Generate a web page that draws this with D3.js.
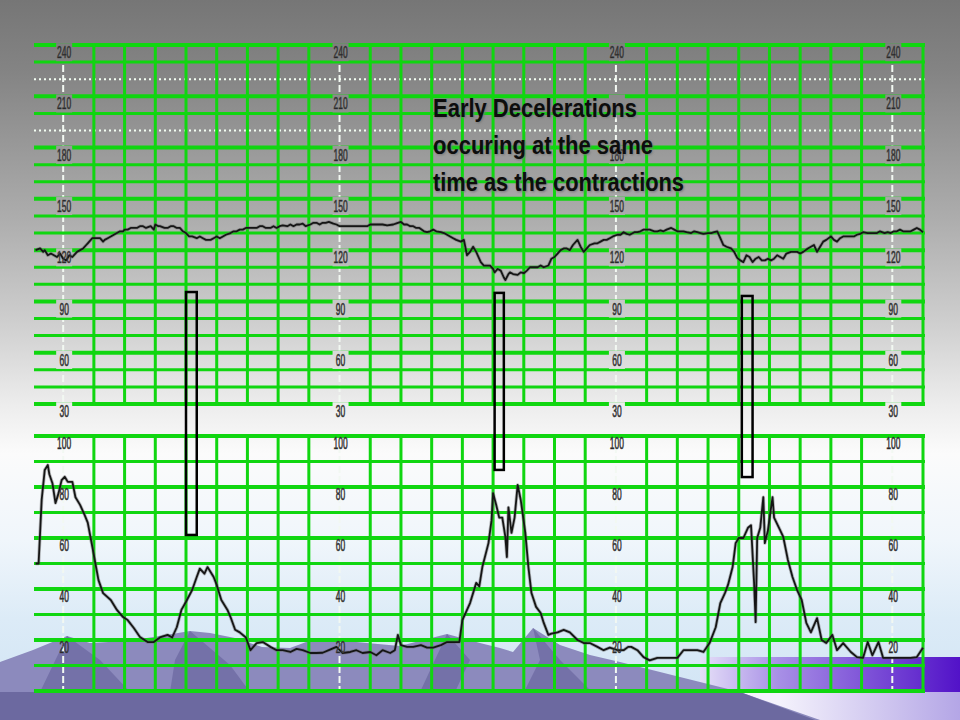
<!DOCTYPE html>
<html><head><meta charset="utf-8">
<script src="https://cdn.jsdelivr.net/npm/d3@7"></script>
<style>html,body{margin:0;padding:0;background:#fff}svg{display:block}</style>
</head><body>
<svg id="c" width="960" height="720"></svg>
<script>
// ---------------- DATA ----------------
// time in seconds from the first scale column (each small grid box = 20 s)
const fhrSeconds = [-18,-15,-13,-12,-10,-8,-6,-4,-2,0,2,4,6,9,11,13,15,16,19,21,24,26,27,29,31,33,35,37,39,40,42,44,46,48,50,52,54,57,59,60,62,63,66,68,70,72,74,76,78,80,82,84,87,89,91,93,96,98,100,102,104,106,109,111,113,115,117,119,122,124,126,128,130,132,135,137,139,141,143,146,148,150,152,154,156,158,161,163,165,167,169,171,173,176,178,180,182,185,188,191,194,198,200,202,205,208,211,215,218,220,222,224,226,228,230,232,235,237,239,241,243,246,248,250,252,254,256,259,261,263,265,267,269,270,272,274,276,278,280,281,283,285,287,288,290,291,293,296,298,300,302,304,306,309,311,313,316,318,320,322,324,326,328,330,332,335,337,339,341,343,346,348,350,352,354,356,358,361,363,365,367,369,372,374,376,378,380,382,385,387,389,391,393,396,398,400,402,404,406,409,411,413,415,417,420,422,424,426,428,430,432,435,437,439,441,443,445,447,449,451,453,455,457,459,461,463,465,467,469,471,474,476,478,480,482,485,487,489,491,493,495,497,500,502,504,506,508,511,513,515,517,519,521,524,526,528,530,532,535,537,539,541,543,545,547,550,552,554,556,558,560];
const fhrBpm = [120,121,119,120,117,118,117,116,118,115,114,117,116,119,120,121,123,124,127,127,127,125,126,127,128,129,130,131,131,132,132,133,133,133,134,134,133,134,132,135,134,134,133,133,134,134,133,133,131,130,128,128,127,128,127,126,126,127,128,127,128,129,130,131,131,132,132,133,133,133,133,134,134,133,133,134,133,134,134.5,134,135,134,135,135,135.5,134,135,136,136,135,136,136,136.5,135.5,135,134,134,134,134,134,134,134,135,135,135,135,134.5,135,136,136.5,135,135,134,134,133,133,131,130.5,131,132,131,130.5,130,129,128,127,126,125,126,117,119,122,119,117,113,111,111,111,109,107,109,108,104,102.5,106,107,106,105.5,107,106.5,108,110,110,110,111,110,111,115,116,118,120,121,121,120,123,126,122,119,121,123,124,124,125,126,126,127,128,129,129,130.5,129.5,129,130.5,130.5,131,132,132,132,131,131,131.5,131,132,133,132,131,131,131,130.5,130,131,130.5,130,129.5,130,130,130.5,131,127,123,122,121,119,115.5,114,113,117,116,113,115,116,114,114,115,114,115,117,116,115,118,119,119,119,118,119,121,122,123,119,122,125,126,128,126,125,127,128,128,128,128,129,129.5,130.5,130,130,130,130,131,130,130.5,130,131,131,132,131,131,131,132,133,132,130.5];

const uaSeconds = [-18,-16,-14,-12,-10,-9,-7,-5,-3,-1,1,3,6,8,11,14,16,19,21,23,26,31,35,39,42,46,50,55,59,63,68,71,74,77,80,84,87,89,92,94,98,100,103,107,109,112,115,119,122,126,130,135,139,143,148,152,156,161,165,169,173,178,182,187,191,195,200,204,208,213,216,218,220,224,228,233,237,241,246,250,254,258,260,265,269,271,273,277,279,280,282,284,286,288,289,290,292,294,296,298,301,303,305,308,311,313,316,318,322,326,330,335,339,343,348,352,356,361,365,368,370,374,378,382,387,391,395,400,404,408,413,417,421,425,428,431,433,436,438,440,443,446,448,450,451,452,454,456,457,459,462,463,467,469,472,475,478,481,484,487,491,494,497,501,504,508,513,517,521,524,527,531,534,539,543,547,552,556,560];
const uaValue = [50,50,75,86.7,88.6,85,81.5,73.7,77.6,82.7,84,82,82,76,73,69,66,56.5,50,43.5,38.4,35.7,31.8,29,27.8,24.7,21.2,19.2,19.2,21,22,21,25,31.8,35,39.6,44.7,48,46,48.6,44.7,41.6,35.7,31.8,29,24,23,21,16,18.8,19.2,17.3,16,16,15.3,16.5,16,14.9,14.9,15,16,17.3,14.9,15.3,16,14.9,15.3,14,16,14.9,16,22,18,17.3,17.3,18,17,17,18,19.2,19.2,19.2,27.8,34.5,42.4,41,48.6,58,67,77.6,73,68,68,60.4,52.5,72,62,68,80.8,75,62,48.6,38.4,33,30.6,26.7,22,22.5,23,24,23,20,18.8,18.8,17.3,16,17,16,16,17.3,17.3,16,13.3,12,13,13,13,13,16,16,16,15.3,18.8,25,34.5,38.4,41.6,48.6,58,60,60,64,65,42.4,27,60,64,76,58,63,76,68,63,60.4,51.4,44.7,39.6,35.7,26.7,23,28.6,20,18.8,22,16,18.8,15.3,13.3,13,19.2,14,19.2,13,13,13,13,13,13.3,17];

const fhrTicks = [240, 210, 180, 150, 120, 90, 60, 30];
const uaTicks = [100, 80, 60, 40, 20];
const scaleColumns = [0, 180, 360, 540];
const titleLines = ["Early Decelerations", "occuring at the same", "time as the contractions"];
// annotation boxes: start/end seconds, top (bpm, FHR scale), bottom (UA scale)
const markStart = [80, 281, 442];
const markEnd = [87, 287, 449];
const markTopBpm = [95.5, 95, 93.2];
const markBottomUa = [61.2, 86.7, 83.9];

// ---------------- LAYOUT ----------------
const svg = d3.select("#c");
const x = d3.scaleLinear().domain([-19, 560]).range([34, 923]);
const yF = d3.scaleLinear().domain([30, 240]).range([404, 45]);
const yU = d3.scaleLinear().domain([0, 100]).range([691, 436]);
const GREEN = "#10d610";
const xL = x(-19), xR = x(561.3);
const FONT = "Liberation Sans, Arial, sans-serif";

const defs = svg.append("defs");
const bg = defs.append("linearGradient").attr("id", "bg")
  .attr("gradientUnits", "userSpaceOnUse").attr("x1", 0).attr("y1", 0).attr("x2", 0).attr("y2", 720);
[[0, "#767676"], [0.1, "#848484"], [0.3, "#acacac"], [0.45, "#cfcfcf"], [0.56, "#ececec"], [0.63, "#fbfbfb"],
 [0.75, "#f0f6fb"], [0.86, "#dcebf7"], [1, "#cfe3f4"]].forEach(s =>
  bg.append("stop").attr("offset", s[0]).attr("stop-color", s[1]));
const band = defs.append("linearGradient").attr("id", "band")
  .attr("gradientUnits", "userSpaceOnUse").attr("x1", 700).attr("y1", 0).attr("x2", 960).attr("y2", 0);
[[0, "#e6e0f8"], [0.3, "#a890e6"], [1, "#5212c8"]].forEach(s =>
  band.append("stop").attr("offset", s[0]).attr("stop-color", s[1]));
const low = defs.append("linearGradient").attr("id", "low")
  .attr("gradientUnits", "userSpaceOnUse").attr("x1", 780).attr("y1", 0).attr("x2", 960).attr("y2", 0);
[[0, "#f4f2fc"], [1, "#b4a6e6"]].forEach(s =>
  low.append("stop").attr("offset", s[0]).attr("stop-color", s[1]));
const blur = defs.append("filter").attr("id", "sh").attr("x", "-5%").attr("y", "-20%").attr("width", "110%").attr("height", "140%");
blur.append("feGaussianBlur").attr("stdDeviation", 1.2);

// background
svg.append("rect").attr("width", 960).attr("height", 720).attr("fill", "url(#bg)");
// decorative slide scenery
const deco = svg.append("g");
deco.append("rect").attr("x", 700).attr("y", 657).attr("width", 260).attr("height", 35).attr("fill", "url(#band)");
deco.append("rect").attr("x", 740).attr("y", 692).attr("width", 220).attr("height", 28).attr("fill", "url(#low)");
deco.append("path").attr("fill", "#8c8abd")
  .attr("d", "M0,662 L33,650 L67,636 L90,643 L127,641 L160,636 L190,631 L210,633 L235,638 L262,647 L290,648 L317,638 L335,640 L367,643 L400,646 L447,634 L480,643 L500,648 L513,652 L533,628 L560,645 L590,655 L620,662 L660,672 L700,682 L740,692 L820,720 L0,720 Z");
deco.append("path").attr("fill", "#7471a8")
  .attr("d", "M67,636 L100,660 L130,692 L40,692 Z M190,631 L230,665 L250,692 L170,692 L175,660 Z M533,628 L560,660 L600,700 L560,720 L520,700 L540,660 Z M447,634 L470,660 L455,692 L420,692 Z");
deco.append("path").attr("fill", "#6c69a0")
  .attr("d", "M0,692 L740,692 L815,720 L0,720 Z");

// ---------------- GRID ----------------
const grid = svg.append("g");
scaleColumns.forEach(c => {
  [[yF(240), yF(30)], [yU(100), yU(0)]].forEach(r => {
    grid.append("line").attr("x1", x(c)).attr("x2", x(c)).attr("y1", r[0]).attr("y2", r[1])
      .attr("stroke", "#f2f8f2").attr("stroke-width", 2).attr("stroke-dasharray", "7,3");
  });
});
d3.range(30, 241, 10).forEach(v => {
  const dotted = (v === 220 || v === 190);
  grid.append("line").attr("x1", xL).attr("x2", xR).attr("y1", yF(v)).attr("y2", yF(v))
    .attr("stroke", dotted ? "#f4fff4" : GREEN)
    .attr("stroke-width", dotted ? 2 : (v % 30 === 0 ? 4 : 3))
    .attr("stroke-dasharray", dotted ? "2,3" : null);
});
d3.range(0, 101, 10).forEach(v => {
  grid.append("line").attr("x1", xL).attr("x2", xR).attr("y1", yU(v)).attr("y2", yU(v))
    .attr("stroke", GREEN).attr("stroke-width", v % 20 === 0 ? 4 : 3);
});
d3.range(20, 561, 20).filter(t => !scaleColumns.includes(t)).forEach(t => {
  grid.append("line").attr("x1", x(t)).attr("x2", x(t)).attr("y1", yF(240) - 1).attr("y2", yF(30) + 1)
    .attr("stroke", GREEN).attr("stroke-width", 3);
  grid.append("line").attr("x1", x(t)).attr("x2", x(t)).attr("y1", yU(100) - 1).attr("y2", yU(0) + 1)
    .attr("stroke", GREEN).attr("stroke-width", 3);
});

// label backing boxes on FHR panel
const boxes = svg.append("g");
scaleColumns.forEach(c => {
  fhrTicks.forEach(v => {
    boxes.append("rect").attr("x", x(c) - 7).attr("width", 16)
      .attr("y", yF(v - 4.2) - 9).attr("height", 18).attr("fill", "url(#bg)");
  });
});

// ---------------- TRACES ----------------
const fhrLine = d3.line().x((d, i) => x(fhrSeconds[i])).y(d => yF(d));
const uaLine = d3.line().x((d, i) => x(uaSeconds[i])).y(d => yU(d));
[[fhrLine(fhrBpm)], [uaLine(uaValue)]].forEach(p => {
  svg.append("path").attr("d", p[0]).attr("fill", "none")
    .attr("stroke", "#666").attr("stroke-opacity", 0.45).attr("stroke-width", 3.4).attr("stroke-linejoin", "round");
  svg.append("path").attr("d", p[0]).attr("fill", "none")
    .attr("stroke", "#151515").attr("stroke-width", 1.8).attr("stroke-linejoin", "round");
});

// ---------------- SCALE LABELS ----------------
const lab = svg.append("g").attr("font-family", FONT).attr("font-size", 16)
  .attr("fill", "#202020").attr("stroke", "#444").attr("stroke-width", 0.6).attr("text-anchor", "middle");
scaleColumns.forEach(c => {
  fhrTicks.filter(v => !(c === 360 && v === 210)).forEach(v => {
    lab.append("text").attr("x", x(c) + 1).attr("y", yF(v - 4.2) + 6)
      .attr("textLength", String(v).length * 4.7).attr("lengthAdjust", "spacingAndGlyphs").text(v);
  });
  uaTicks.forEach(v => {
    lab.append("text").attr("x", x(c) + 1).attr("y", yU(v - 2.7) + 6)
      .attr("textLength", String(v).length * 4.7).attr("lengthAdjust", "spacingAndGlyphs").text(v);
  });
});

// ---------------- ANNOTATION BOXES ----------------
markStart.forEach((s, i) => {
  svg.append("rect").attr("x", x(s)).attr("y", yF(markTopBpm[i]))
    .attr("width", x(markEnd[i]) - x(s)).attr("height", yU(markBottomUa[i]) - yF(markTopBpm[i]))
    .attr("fill", "none").attr("stroke", "#000").attr("stroke-width", 2.5);
});

// ---------------- TITLE ----------------
const titleLen = [204, 220, 251];
const tg = svg.append("g").attr("font-family", FONT).attr("font-weight", "bold").attr("font-size", 25);
titleLines.forEach((t, i) => {
  tg.append("text").attr("x", 434).attr("y", 118 + i * 37).attr("fill", "#777").attr("filter", "url(#sh)")
    .attr("textLength", titleLen[i]).attr("lengthAdjust", "spacingAndGlyphs").text(t);
  tg.append("text").attr("x", 433).attr("y", 117 + i * 37).attr("fill", "#0d0d0d")
    .attr("textLength", titleLen[i]).attr("lengthAdjust", "spacingAndGlyphs").text(t);
});
</script>
</body></html>
